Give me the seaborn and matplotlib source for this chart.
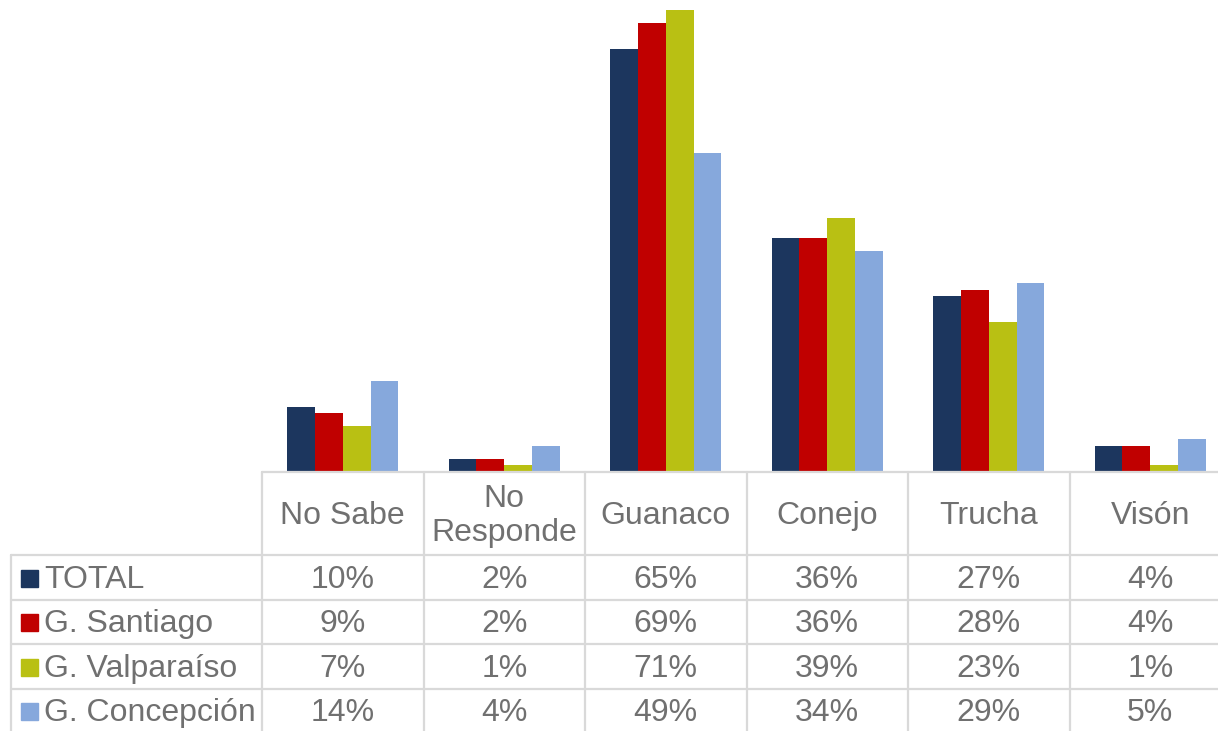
import matplotlib
matplotlib.use("Agg")
import matplotlib.pyplot as plt
from matplotlib.lines import Line2D
from matplotlib.patches import Rectangle
import seaborn as sns
import pandas as pd

categories = ["No Sabe", "No\nResponde", "Guanaco", "Conejo", "Trucha", "Visón"]
series_names = ["TOTAL", "G. Santiago", "G. Valparaíso", "G. Concepción"]
total = [10, 2, 65, 36, 27, 4]
santiago = [9, 2, 69, 36, 28, 4]
valparaiso = [7, 1, 71, 39, 23, 1]
concepcion = [14, 4, 49, 34, 29, 5]
colors = ["#1C365E", "#C00000", "#B9C013", "#86A8DC"]

series_values = [total, santiago, valparaiso, concepcion]
rows = []
for name, vals in zip(series_names, series_values):
    for cat, v in zip(categories, vals):
        rows.append({"cat": cat, "serie": name, "val": v / 100})
df = pd.DataFrame(rows)

sns.set_theme(style="white")
plt.rcParams["font.family"] = ["Liberation Sans", "DejaVu Sans"]

W, H = 1218, 731
fig = plt.figure(figsize=(W / 100, H / 100), dpi=100)

def fx(x):
    return x / W

def fy(y):
    return 1 - y / H

base_y = 472
left_x = 262
col_w = 161.5
ax = fig.add_axes([fx(left_x), fy(base_y), (col_w * 6) / W, base_y / H])
sns.barplot(data=df, x="cat", y="val", hue="serie", order=categories,
            hue_order=series_names, palette=colors, width=0.69, gap=0,
            linewidth=0, saturation=1, legend=False, ax=ax)
ax.set_xlim(-0.5, 5.5)
ax.set_ylim(0, 0.726)
ax.axis("off")

grid_c = "#D9D9D9"
lw = 1.6
text_c = "#707070"
fs = 23

def hline(y, x0, x1):
    fig.add_artist(Line2D([fx(x0), fx(x1)], [fy(y), fy(y)], color=grid_c, lw=lw, zorder=5))

def vline(x, y0, y1):
    fig.add_artist(Line2D([fx(x), fx(x)], [fy(y0), fy(y1)], color=grid_c, lw=lw, zorder=5))

row_edges = [555, 599.5, 644, 688.5, 733]
hline(base_y, left_x, W + 20)
for y in row_edges:
    hline(y, 11, W + 20)
vline(11, 555, 740)
for i in range(7):
    vline(left_x + i * col_w, base_y, 740)

# header
for i, cat in enumerate(categories):
    cx = left_x + (i + 0.5) * col_w
    fig.text(fx(cx), fy(516), cat, ha="center", va="center", fontsize=fs,
             color=text_c, linespacing=1.18)

# rows
for r, (name, vals, c) in enumerate(zip(series_names, series_values, colors)):
    cy = (row_edges[r] + row_edges[r + 1]) / 2
    ty = cy + 2.5
    fig.add_artist(Rectangle((fx(21), fy(cy + 9.5)), 17 / W, 17 / H,
                             transform=fig.transFigure, color=c, zorder=6))
    fig.text(fx(44), fy(ty), name, ha="left", va="center", fontsize=fs, color=text_c)
    for i, v in enumerate(vals):
        cx = left_x + (i + 0.5) * col_w
        fig.text(fx(cx), fy(ty), f"{v}%", ha="center", va="center", fontsize=fs, color=text_c)

fig.savefig("out.png", dpi=100)
